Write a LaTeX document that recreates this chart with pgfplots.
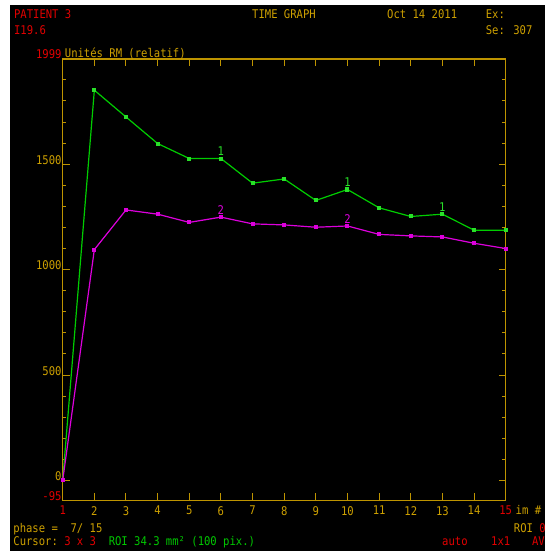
\documentclass[border=0pt]{standalone}
\usepackage{fontspec}
\setmainfont[FakeStretch=0.88]{DejaVu Sans Mono}
\usepackage{pgfplots}
\pgfplotsset{compat=1.18}
\definecolor{gold}{RGB}{205,160,0}
\definecolor{axgold}{RGB}{190,148,0}
\definecolor{tred}{RGB}{225,0,0}
\definecolor{lgreen}{RGB}{0,205,0}
\definecolor{bgreen}{RGB}{40,225,40}
\definecolor{tgreen}{RGB}{0,200,0}
\definecolor{lmag}{RGB}{220,0,220}
\begin{document}
\begin{tikzpicture}[x=1bp,y=1bp,font=\fontsize{12bp}{14bp}\selectfont]
\useasboundingbox (0,0) rectangle (545,551);
\clip (0,0) rectangle (545,551);
\fill[white] (0,0) rectangle (545,551);
\fill[black] (9.5,0) rectangle (545,546);
\begin{axis}[
  at={(62.7bp,50.5bp)}, anchor=south west,
  scale only axis, width=443bp, height=441.5bp,
  xmin=1, xmax=15, ymin=-95, ymax=1999,
  clip=false,
  axis line style={draw=axgold, line width=1.3bp},
  tick style={draw=axgold, line width=1bp},
  tick align=inside,
  major tick length=7bp, minor tick length=3.5bp,
  xtick={1,...,15},
  xticklabels={\textcolor{tred}{1},2,3,4,5,6,7,8,9,10,11,12,13,14,\textcolor{tred}{15}},
  xticklabel style={text=gold, anchor=north, inner sep=0pt, yshift=-5.5bp},
  ytick={-95,0,500,1000,1500,1999},
  yticklabels={\textcolor{tred}{-95},0,500,1000,1500,\textcolor{tred}{1999}},
  yticklabel style={text=gold, anchor=base east, inner sep=0pt, xshift=-1bp},
  minor ytick={100,200,300,400,600,700,800,900,1100,1200,1300,1400,1600,1700,1800,1900},
]
\addplot[lgreen, line width=1.2bp, mark=square*, mark size=1.4bp, mark options={solid, fill=bgreen, draw=bgreen}] coordinates {
(1,0)(2,1851)(3,1724)(4,1598)(5,1527)(6,1527)(7,1410)(8,1430)(9,1328)(10,1380)(11,1293)(12,1252)(13,1263)(14,1187)(15,1187)};
\addplot[lmag, line width=1.2bp, mark=square*, mark size=1.4bp, mark options={solid}] coordinates {
(1,0)(2,1095)(3,1283)(4,1263)(5,1224)(6,1249)(7,1217)(8,1212)(9,1201)(10,1207)(11,1167)(12,1160)(13,1155)(14,1125)(15,1100)};
\node[anchor=south, inner sep=0pt, text=bgreen, yshift=2.5bp] at (axis cs:6,1527) {1};
\node[anchor=south, inner sep=0pt, text=bgreen, yshift=2.5bp] at (axis cs:10,1380) {1};
\node[anchor=south, inner sep=0pt, text=bgreen, yshift=2.5bp] at (axis cs:13,1263) {1};
\node[anchor=south, inner sep=0pt, text=lmag, yshift=2.5bp] at (axis cs:6,1249) {2};
\node[anchor=south, inner sep=0pt, text=lmag, yshift=2.5bp] at (axis cs:10,1207) {2};
\end{axis}
\node[anchor=base west, inner sep=0pt, text=tred] at (13.9,532) {PATIENT 3};
\node[anchor=base west, inner sep=0pt, text=tred] at (13.9,516) {I19.6};
\node[anchor=base west, inner sep=0pt, text=gold] at (252,532) {TIME GRAPH};
\node[anchor=base west, inner sep=0pt, text=gold] at (387,532) {Oct 14 2011};
\node[anchor=base west, inner sep=0pt, text=gold] at (485.6,532) {Ex:};
\node[anchor=base west, inner sep=0pt, text=gold] at (485.6,516) {Se: 307};
\node[anchor=base west, inner sep=0pt, text=gold] at (64.7,493.7) {Unités RM (relatif)};
\node[anchor=base west, inner sep=0pt, text=gold] at (515.5,36) {im \#};
\node[anchor=base west, inner sep=0pt, text=gold] at (13.2,18.7) {phase =~~7/~15};
\node[anchor=base west, inner sep=0pt, text=gold] at (13.2,5) {Cursor:~\textcolor{tred}{3~x~3}~~\textcolor{tgreen}{ROI~34.3~mm²~(100~pix.)}};
\node[anchor=base west, inner sep=0pt, text=gold] at (513.7,18.7) {ROI~\textcolor{tred}{0}};
\node[anchor=base west, inner sep=0pt, text=tred] at (442,5) {auto};
\node[anchor=base west, inner sep=0pt, text=tred] at (491,5) {1x1};
\node[anchor=base west, inner sep=0pt, text=tred] at (531.8,5) {AV};
\end{tikzpicture}
\end{document}
